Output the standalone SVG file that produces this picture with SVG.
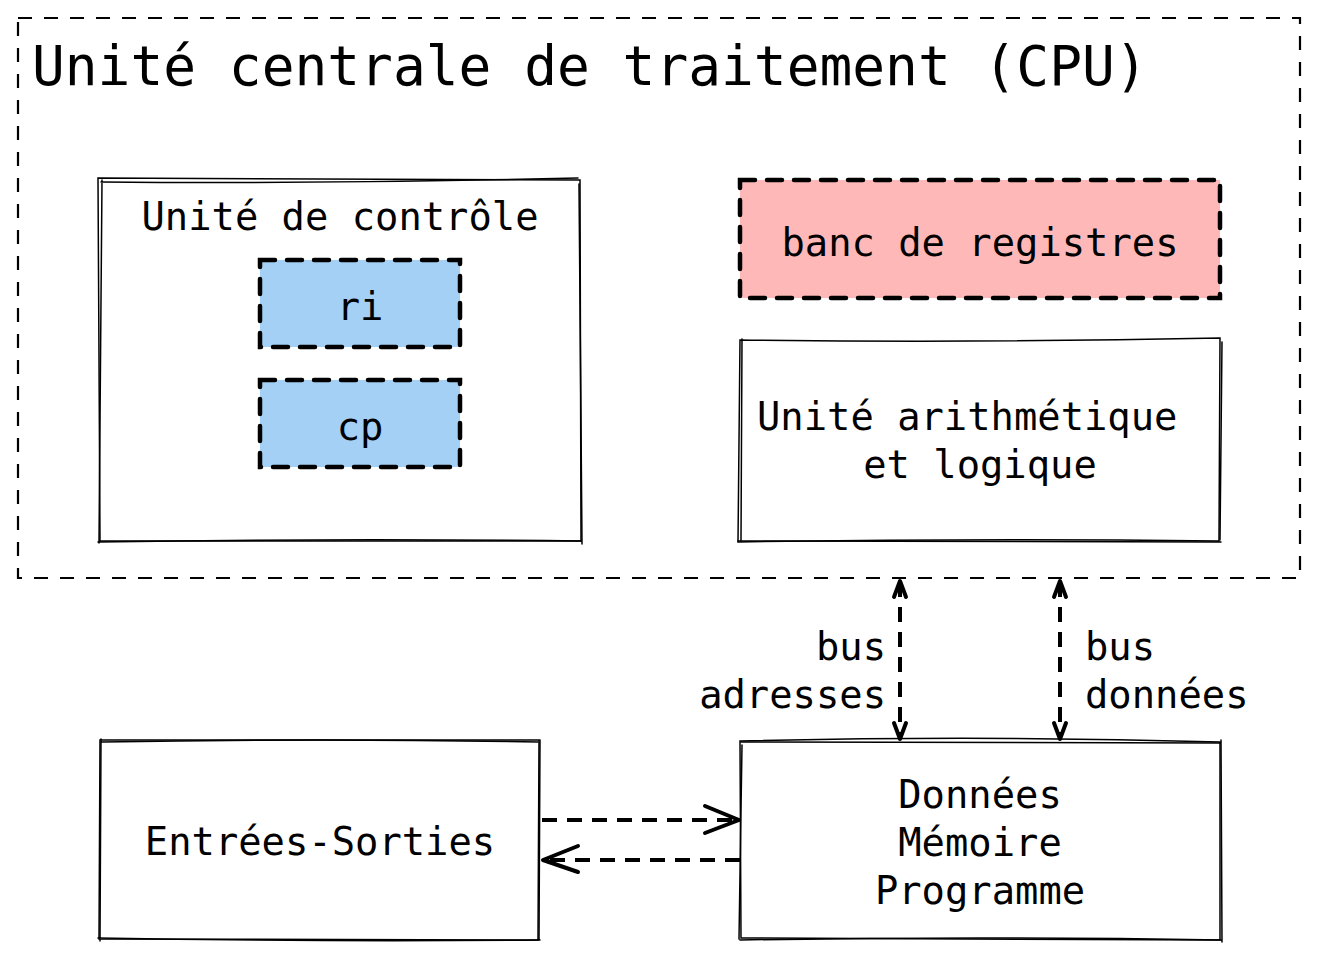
<svg xmlns="http://www.w3.org/2000/svg" width="1320" height="960" viewBox="0 0 1320 960">
<defs>
<style>
text{font-family:"DejaVu Sans Mono","Liberation Mono",monospace;fill:#000}
.t{font-size:38.8px}
.big{font-size:54.5px}
.sk{fill:none;stroke:#000;stroke-width:1.5;stroke-linecap:round}
.reg{stroke:#000;stroke-width:4.5;stroke-dasharray:15 12;stroke-linecap:round}
.cpu{fill:none;stroke:#000;stroke-width:2.2;stroke-dasharray:14 12}
.con{fill:none;stroke:#000;stroke-width:4;stroke-dasharray:15 10}
.head{fill:none;stroke:#000;stroke-width:4;stroke-linecap:round;stroke-linejoin:round}
</style>
</defs>
<rect width="1320" height="960" fill="#fff"/>
<g id="cpu">
<rect class="cpu" x="18" y="18" width="1282" height="560"/>
<text class="big" x="32" y="85">Unité centrale de traitement (CPU)</text>
</g>
<g id="controle">
<rect x="100" y="180" width="480" height="361" fill="#fff"/>
<path class="sk" d="M98 178 L580 180 L581 541 L100 541 Z"/>
<path class="sk" d="M101 182 Q340 184 578 178 M102 180 L99 543 M579 184 L582 544 M98 542 Q340 538 582 541"/>
<text class="t" x="340" y="230" text-anchor="middle">Unité de contrôle</text>
</g>
<g id="ri">
<rect class="reg" x="260" y="260" width="200" height="87" fill="#a5d0f5"/>
<text class="t" x="360" y="320" text-anchor="middle">ri</text>
</g>
<g id="cp">
<rect class="reg" x="260" y="380" width="200" height="87" fill="#a5d0f5"/>
<text class="t" x="360" y="440" text-anchor="middle">cp</text>
</g>
<g id="registres">
<rect class="reg" x="740" y="180" width="480" height="118" fill="#ffb8b8"/>
<text class="t" x="980" y="256" text-anchor="middle">banc de registres</text>
</g>
<g id="ual">
<rect x="740" y="340" width="480" height="201" fill="#fff"/>
<path class="sk" d="M740 340 Q980 343 1220 338 L1219 541 Q980 538 738 542 Z"/>
<path class="sk" d="M742 339 L741 541 M1222 342 L1220 540 M738 541 L1221 542"/>
<text class="t" x="757" y="430">Unité arithmétique</text>
<text class="t" x="980" y="478" text-anchor="middle">et logique</text>
</g>
<g id="es">
<rect x="100" y="740" width="440" height="200" fill="#fff"/>
<path class="sk" d="M100 740 L539 740 L538 940 L99 939 Z"/>
<path class="sk" d="M102 742 Q320 738 538 742 M101 739 L100 941 M540 740 L539 940 M98 938 Q320 942 540 940"/>
<text class="t" x="320" y="855" text-anchor="middle">Entrées-Sorties</text>
</g>
<g id="memoire">
<rect x="740" y="740" width="480" height="200" fill="#fff"/>
<path class="sk" d="M740 741 Q980 735 1220 742 L1220 940 L741 938 Z"/>
<path class="sk" d="M742 745 L739 939 M1221 740 L1222 942 M740 940 Q980 936 1222 940 M741 742 L1221 743"/>
<text class="t" x="980" y="808" text-anchor="middle">Données</text>
<text class="t" x="980" y="856" text-anchor="middle">Mémoire</text>
<text class="t" x="980" y="904" text-anchor="middle">Programme</text>
</g>
<g id="connecteurs">
<path class="con" d="M900 582 L900 738"/>
<path class="head" d="M894 597 L900 581 L906 597 M894 723 L900 739 L906 723"/>
<path class="con" d="M1060 582 L1060 738"/>
<path class="head" d="M1054 597 L1060 581 L1066 597 M1054 723 L1060 739 L1066 723"/>
<path class="con" d="M542 820 L738 820"/>
<path class="head" d="M705 806 L739 820 L705 833"/>
<path class="con" d="M740 860 L545 860"/>
<path class="head" d="M578 846 L543 860 L578 872"/>
<text class="t" x="886" y="660" text-anchor="end">bus</text>
<text class="t" x="886" y="708" text-anchor="end">adresses</text>
<text class="t" x="1085" y="660">bus</text>
<text class="t" x="1085" y="708">données</text>
</g>
</svg>
